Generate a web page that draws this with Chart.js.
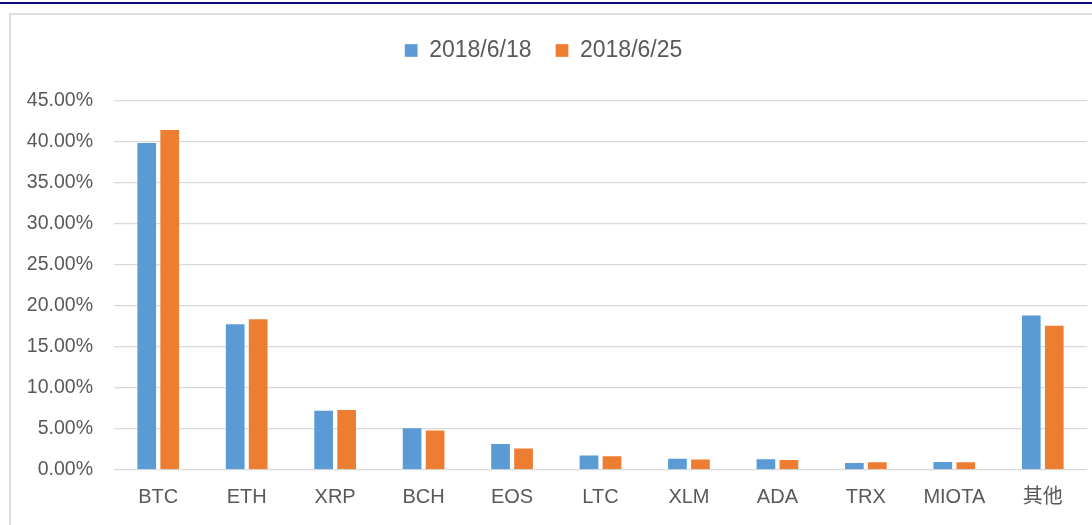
<!DOCTYPE html>
<html>
<head>
<meta charset="utf-8">
<script src="https://cdn.jsdelivr.net/npm/chart.js@4/dist/chart.umd.min.js"></script>
<style>
	html, body { margin: 0; padding: 0; background: #fff; }
	#wrap { position: relative; width: 1092px; height: 525px; overflow: hidden; }
	#topline { position: absolute; left: 0; top: 2px; width: 1092px; height: 2px; background: #0b0b7d; }
	#frame { position: absolute; left: 9px; top: 13px; width: 1100px; height: 600px; border: 2px solid #dcdcdc; }
	#c { position: absolute; left: 0; top: 0; }
</style>
</head>
<body>
<div id="wrap">
	<div id="topline"></div>
	<div id="frame"></div>
	<canvas id="c" width="1092" height="525"></canvas>
</div>
<script>
var coins = ['BTC', 'ETH', 'XRP', 'BCH', 'EOS', 'LTC', 'XLM', 'ADA', 'TRX', 'MIOTA', '其他'];
var share0618 = [40.0, 17.9, 7.35, 5.2, 3.3, 1.9, 1.5, 1.42, 0.97, 1.1, 18.95];
var share0625 = [41.6, 18.5, 7.45, 4.95, 2.75, 1.8, 1.4, 1.34, 1.06, 1.06, 17.7];
var seriesNames = ['2018/6/18', '2018/6/25'];
var yMax = 45, yStep = 5;

var fontFam = "'Liberation Sans', 'Noto Sans CJK SC', sans-serif";
var txtColor = '#595959';

var ctx = document.getElementById('c').getContext('2d');
var chart = new Chart(ctx, {
	type: 'bar',
	data: {
		labels: coins,
		datasets: [{
			label: seriesNames[0],
			data: share0618,
			backgroundColor: '#5B9BD5',
			borderColor: 'rgba(255,255,255,0.3)',
			borderWidth: 1
		}, {
			label: seriesNames[1],
			data: share0625,
			backgroundColor: '#ED7D31',
			borderColor: 'rgba(255,255,255,0.3)',
			borderWidth: 1
		}]
	},
	options: {
		responsive: false,
		animation: false,
		categoryPercentage: 0.52,
		barPercentage: 0.9,
		layout: {
			padding: { left: 0, right: 5, top: 15, bottom: 0 }
		},
		plugins: {
			tooltip: { enabled: false },
			legend: {
				display: true,
				position: 'top',
				weight: 3000,
				labels: {
					color: txtColor,
					font: { family: fontFam, size: 23 },
					boxWidth: 13,
					boxHeight: 13,
					padding: 24
				}
			},
			// empty subtitle only used as a spacer between legend and plot
			subtitle: {
				display: true,
				text: '',
				font: { size: 10 },
				padding: 8.5
			}
		},
		scales: {
			x: {
				grid: { display: false },
				border: { display: false },
				ticks: {
					color: txtColor,
					font: { family: fontFam, size: 20 },
					padding: 7,
					maxRotation: 0,
					autoSkip: false
				},
				afterFit: function(scale) { scale.height = 55; }
			},
			y: {
				min: 0,
				max: yMax,
				grid: { color: '#d9d9d9', lineWidth: 1.3, drawTicks: false },
				border: { display: false },
				ticks: {
					stepSize: yStep,
					color: txtColor,
					font: { family: fontFam, size: 19.5 },
					padding: 21,
					callback: function(v) { return v.toFixed(2) + '%'; }
				},
				afterFit: function(scale) { scale.width = 114; }
			}
		}
	}
});
</script>
</body>
</html>
